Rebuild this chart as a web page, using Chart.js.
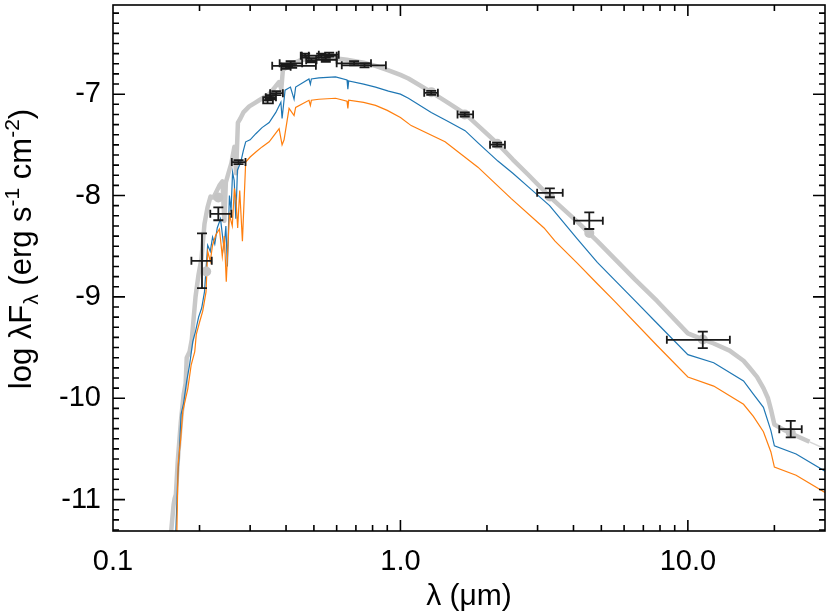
<!DOCTYPE html>
<html>
<head>
<meta charset="utf-8">
<script src="https://cdn.jsdelivr.net/npm/chart.js@4.4.1/dist/chart.umd.min.js"></script>
<style>
  html, body { margin: 0; padding: 0; background: #ffffff; }
  #sedChart { display: block; }
</style>
</head>
<body>
<canvas id="sedChart" width="830" height="616"></canvas>
<script>
"use strict";

// ---------------------------------------------
// Axis ticks (log wavelength, log flux)
// ---------------------------------------------
const xTickValues = [0.1, 1, 10];
const xTickLabels = ["0.1", "1.0", "10.0"];
const yTickValues = [-11, -10, -9, -8, -7];
const yTickLabels = ["-11", "-10", "-9", "-8", "-7"];

// ---------------------------------------------
// Best-fit model (thick grey)
// ---------------------------------------------
const greyWave = [
    0.1575, 0.1595, 0.1625, 0.1638, 0.1655, 0.168, 0.172, 0.176, 0.179, 0.1805,
    0.1847, 0.188, 0.1937, 0.1984, 0.2032, 0.2081, 0.2132, 0.2184, 0.2237, 0.2291,
    0.2346, 0.2403, 0.244, 0.247, 0.2521, 0.2582, 0.2644, 0.268, 0.272, 0.2774,
    0.2841, 0.291, 0.2979, 0.3099, 0.3225, 0.3357, 0.3494, 0.3636, 0.3784, 0.385,
    0.39, 0.4098, 0.4265, 0.4438, 0.4806, 0.5204, 0.5909, 0.6503, 0.7447, 0.8193,
    0.9086, 1.0, 1.066, 1.28, 1.466, 1.679, 1.862, 2.183, 2.461, 2.773,
    3.304, 4.13, 4.842, 5.546, 6.556, 7.81, 10.0, 11.27, 12.3, 13.97,
    15.62, 16.39, 17.4, 18.32, 19.0, 19.53, 20.0, 21.5, 23.8, 26.5, 30.0
];
const greyFlux = [
    -11.5, -11.3, -11.05, -10.99, -10.95, -10.62, -10.25, -9.97, -9.85, -9.6,
    -9.54, -9.42, -9.0, -8.78, -8.62, -8.28, -8.12, -8.01, -8.02, -7.96,
    -7.9, -7.86, -8.25, -7.87, -7.78, -7.68, -7.52, -7.78, -7.28, -7.24,
    -7.18, -7.15, -7.12, -7.09, -7.06, -7.03, -7.0, -6.94, -6.88, -6.95,
    -6.76, -6.72, -6.69, -6.67, -6.645, -6.635, -6.645, -6.66, -6.69, -6.72,
    -6.765, -6.81, -6.845, -6.98, -7.085, -7.195, -7.31, -7.49, -7.645, -7.79,
    -8.01, -8.26, -8.45, -8.62, -8.83, -9.04, -9.36, -9.42, -9.46, -9.53,
    -9.63, -9.70, -9.79, -9.9, -10.0, -10.13, -10.26, -10.31, -10.37, -10.43, -10.5
];

// ---------------------------------------------
// Second model (blue)
// ---------------------------------------------
const blueWave = [
    0.1645, 0.1655, 0.168, 0.17, 0.1725, 0.176, 0.1805, 0.1847, 0.1895, 0.1937,
    0.1985, 0.2035, 0.2081, 0.2135, 0.218, 0.222, 0.226, 0.2305, 0.2366, 0.2433,
    0.247, 0.25, 0.2541, 0.2575, 0.2606, 0.264, 0.2675, 0.271, 0.2783, 0.284,
    0.2895, 0.3, 0.314, 0.33, 0.3494, 0.3686, 0.3838, 0.3875, 0.3969, 0.4143,
    0.4265, 0.432, 0.4806, 0.4861, 0.49, 0.5204, 0.5946, 0.6519, 0.6563, 0.6607,
    0.7447, 0.8193, 0.9086, 1.0, 1.066, 1.28, 1.466, 1.679, 1.862, 2.183,
    2.461, 2.773, 3.304, 4.13, 4.842, 5.546, 6.556, 7.81, 10.0, 12.3,
    15.62, 16.9, 18.32, 19.45, 20.0, 23.8, 30.0
];
const blueFlux = [
    -11.5, -11.3, -10.78, -10.55, -10.16, -10.05, -9.83, -9.67, -9.44, -9.34,
    -9.2, -9.11, -8.95, -8.49, -8.55, -8.41, -8.48, -8.32, -8.23, -8.52,
    -8.3, -8.7, -8.0, -8.15, -7.77, -7.85, -8.23, -7.75, -7.67, -7.56,
    -7.47, -7.45, -7.39, -7.33, -7.28, -7.18, -7.08, -7.24, -6.96, -6.93,
    -7.05, -6.93, -6.85, -6.9, -6.85, -6.84, -6.83, -6.86, -6.95, -6.87,
    -6.9, -6.93, -6.97, -7.0, -7.04, -7.18, -7.27, -7.36, -7.48, -7.66,
    -7.78, -7.91, -8.1, -8.43, -8.66, -8.83, -9.04, -9.26, -9.57, -9.65,
    -9.83, -9.96, -10.09, -10.32, -10.47, -10.55, -10.72
];

// ---------------------------------------------
// Third model (orange)
// ---------------------------------------------
const orangeWave = [
    0.166, 0.1668, 0.1685, 0.172, 0.1749, 0.179, 0.182, 0.1871, 0.1925, 0.1949,
    0.2, 0.2052, 0.2107, 0.2135, 0.218, 0.222, 0.2278, 0.2346, 0.24, 0.244,
    0.2478, 0.2541, 0.26, 0.2644, 0.268, 0.2715, 0.276, 0.282, 0.2895, 0.3,
    0.314, 0.33, 0.3494, 0.365, 0.3784, 0.3875, 0.3937, 0.4098, 0.4265, 0.432,
    0.4806, 0.4861, 0.49, 0.5204, 0.5946, 0.6519, 0.6563, 0.6607, 0.7447, 0.8193,
    0.9, 1.0, 1.09, 1.43, 1.86, 2.43, 3.16, 3.45, 4.13, 4.842,
    5.546, 7.81, 10.0, 12.3, 15.62, 16.9, 18.32, 19.45, 20.0, 23.8, 30.0
];
const orangeFlux = [
    -11.5, -11.3, -10.65, -10.4, -10.13, -10.0, -9.91, -9.67, -9.54, -9.37,
    -9.25, -9.14, -8.95, -8.55, -8.65, -8.49, -8.39, -8.33, -8.6, -8.4,
    -8.85, -8.19, -8.3, -7.93, -8.05, -8.32, -7.95, -8.45, -7.67, -7.62,
    -7.57, -7.52, -7.47, -7.4, -7.34, -7.5, -7.45, -7.14, -7.21, -7.13,
    -7.06, -7.11, -7.06, -7.05, -7.04, -7.07, -7.14, -7.06, -7.08, -7.11,
    -7.16, -7.23, -7.31, -7.47, -7.72, -8.03, -8.32, -8.45, -8.67, -8.87,
    -9.04, -9.48, -9.79, -9.88, -10.06, -10.18, -10.33, -10.53, -10.68, -10.76, -10.93
];

// ---------------------------------------------
// Synthetic photometry of the best-fit model (grey dots)
// ---------------------------------------------
const synthWave = [0.211, 0.2325, 1.28, 1.674, 2.17, 3.31, 4.54, 11.27, 22.8];
const synthFlux = [-8.75, -8.02, -6.98, -7.2, -7.49, -8.01, -8.37, -9.42, -10.34];

// ---------------------------------------------
// Observed photometry with error bars
// ---------------------------------------------
const photWave   = [0.204, 0.2325, 0.2735, 0.345, 0.355, 0.37, 0.40, 0.415, 0.42, 0.466,
                    0.49, 0.53, 0.55, 0.565, 0.69, 0.75, 1.28, 1.674, 2.17, 3.31,
                    4.54, 11.27, 22.8];
const photFlux   = [-8.644, -8.18, -7.67, -7.06, -7.03, -6.99, -6.73, -6.695, -6.72, -6.62,
                    -6.665, -6.62, -6.66, -6.61, -6.695, -6.715, -6.987, -7.2, -7.498, -7.973,
                    -8.248, -9.424, -10.305];
const photErr    = [0.27, 0.064, 0.02, 0.03, 0.02, 0.02, 0.02, 0.02, 0.02, 0.02,
                    0.02, 0.02, 0.02, 0.02, 0.02, 0.02, 0.02, 0.02, 0.02, 0.044,
                    0.082, 0.082, 0.082];
const photWaveLo = [0.1874, 0.218, 0.259, 0.333, 0.34, 0.352, 0.385, 0.38, 0.358, 0.45,
                    0.47, 0.454, 0.51, 0.52, 0.60, 0.625, 1.21, 1.58, 2.05, 2.99,
                    4.02, 8.45, 20.8];
const photWaveHi = [0.2206, 0.258, 0.289, 0.36, 0.369, 0.39, 0.415, 0.455, 0.508, 0.48,
                    0.51, 0.60, 0.60, 0.61, 0.79, 0.89, 1.35, 1.79, 2.31, 3.67,
                    5.06, 14.0, 24.9];

// The thick grey line turns thin beyond this wavelength
const greyThinFrom = 26.5;

const fontFamily = "'Liberation Sans', Arial, Helvetica, sans-serif";

function toPoints(xs, ys) {
    return xs.map((x, i) => ({ x: x, y: ys[i] }));
}

/**
 * Draws the error bars, the boxed frame with inward ticks
 * and the rotated y-axis title with sub/superscripts.
 */
const sedDecorations = {

    id: "sedDecorations",

    afterDatasetsDraw(chart) {

        const ctx = chart.ctx;
        const xs = chart.scales.x;
        const ys = chart.scales.y;

        ctx.save();
        ctx.strokeStyle = "#1a1a1a";
        ctx.lineWidth = 1.8;

        photWave.forEach((w, i) => {

            const px = xs.getPixelForValue(w);
            const py = ys.getPixelForValue(photFlux[i]);
            const x0 = xs.getPixelForValue(photWaveLo[i]);
            const x1 = xs.getPixelForValue(photWaveHi[i]);
            const yTop = ys.getPixelForValue(photFlux[i] + photErr[i]);
            const yBot = ys.getPixelForValue(photFlux[i] - photErr[i]);

            ctx.beginPath();
            // horizontal bar + caps
            ctx.moveTo(x0, py); ctx.lineTo(x1, py);
            ctx.moveTo(x0, py - 4); ctx.lineTo(x0, py + 4);
            ctx.moveTo(x1, py - 4); ctx.lineTo(x1, py + 4);
            // vertical bar + caps
            ctx.moveTo(px, yTop); ctx.lineTo(px, yBot);
            ctx.moveTo(px - 5, yTop); ctx.lineTo(px + 5, yTop);
            ctx.moveTo(px - 5, yBot); ctx.lineTo(px + 5, yBot);
            ctx.stroke();

        });

        ctx.restore();

    },

    afterDraw(chart) {

        const ctx = chart.ctx;
        const area = chart.chartArea;
        const xs = chart.scales.x;
        const ys = chart.scales.y;

        ctx.save();
        ctx.strokeStyle = "#000000";
        ctx.lineWidth = 1.6;

        // frame
        ctx.strokeRect(area.left, area.top, area.right - area.left, area.bottom - area.top);

        ctx.beginPath();

        // x ticks (major + log minors), bottom and top, pointing inward
        for (let decade = 0.1; decade < 100; decade *= 10) {
            for (let m = 1; m <= 9; m++) {
                const v = decade * m;
                if (v <= xs.min || v >= xs.max) continue;
                const len = m === 1 ? 11 : 6;
                const px = xs.getPixelForValue(v);
                ctx.moveTo(px, area.bottom); ctx.lineTo(px, area.bottom - len);
                ctx.moveTo(px, area.top); ctx.lineTo(px, area.top + len);
            }
        }

        // y ticks (major every 1, minor every 0.1), left and right
        for (let k = -120; k <= -60; k++) {
            const v = k / 10;
            if (v <= ys.min || v >= ys.max) continue;
            const len = k % 10 === 0 ? 12 : 6;
            const py = ys.getPixelForValue(v);
            ctx.moveTo(area.left, py); ctx.lineTo(area.left + len, py);
            ctx.moveTo(area.right, py); ctx.lineTo(area.right - len, py);
        }

        ctx.stroke();

        // y-axis title: log λF_λ (erg s^-1 cm^-2)
        const big = "31px " + fontFamily;
        const small = "21px " + fontFamily;
        const pieces = [
            { t: "log λF", f: big, dy: 0 },
            { t: "λ", f: small, dy: 7 },
            { t: " (erg s", f: big, dy: 0 },
            { t: "-1", f: small, dy: -12 },
            { t: " cm", f: big, dy: 0 },
            { t: "-2", f: small, dy: -12 },
            { t: ")", f: big, dy: 0 }
        ];

        let total = 0;
        pieces.forEach(p => { ctx.font = p.f; p.w = ctx.measureText(p.t).width; total += p.w; });

        ctx.translate(31, 249);
        ctx.rotate(-Math.PI / 2);
        ctx.fillStyle = "#000000";
        ctx.textBaseline = "alphabetic";
        ctx.textAlign = "left";

        let cursor = -total / 2;
        pieces.forEach(p => {
            ctx.font = p.f;
            ctx.fillText(p.t, cursor, p.dy);
            cursor += p.w;
        });

        ctx.restore();

    }

};

const canvas = document.querySelector("#sedChart");

new Chart(canvas, {

    type: "line",

    data: {

        datasets: [

            {
                type: "scatter",
                label: "Model photometry",
                data: toPoints(synthWave, synthFlux),
                pointRadius: 5,
                pointBackgroundColor: "#c4c4c4",
                pointBorderWidth: 0,
                showLine: false,
                clip: 0
            },

            {
                label: "Model 3",
                data: toPoints(orangeWave, orangeFlux),
                borderColor: "#ff7f0e",
                borderWidth: 1.2,
                pointRadius: 0,
                tension: 0,
                clip: 0
            },

            {
                label: "Model 2",
                data: toPoints(blueWave, blueFlux),
                borderColor: "#1f77b4",
                borderWidth: 1.2,
                pointRadius: 0,
                tension: 0,
                clip: 0
            },

            {
                label: "Best fit",
                data: toPoints(greyWave, greyFlux),
                borderColor: "#c8c8c8",
                borderWidth: 4.5,
                borderJoinStyle: "round",
                pointRadius: 0,
                tension: 0,
                clip: 0,
                segment: {
                    borderWidth: seg => seg.p0.parsed.x >= greyThinFrom ? 1.5 : 4.5,
                    borderColor: seg => seg.p0.parsed.x >= greyThinFrom ? "#d6d6d6" : "#c8c8c8"
                }
            }

        ]

    },

    options: {

        responsive: false,
        animation: false,
        events: [],

        layout: {
            padding: { top: 2, right: 1, left: 0, bottom: 0 }
        },

        plugins: {
            legend: { display: false },
            tooltip: { enabled: false }
        },

        scales: {

            x: {
                type: "logarithmic",
                position: "bottom",
                min: 0.1,
                max: 30,
                grid: { display: false, drawTicks: false },
                border: { display: false },
                afterBuildTicks: scale => {
                    scale.ticks = xTickValues.map(v => ({ value: v, major: true }));
                },
                afterFit: scale => {
                    scale.height = 85;
                    scale.paddingLeft = 0;
                    scale.paddingRight = 0;
                },
                ticks: {
                    autoSkip: false,
                    maxRotation: 0,
                    padding: 14,
                    color: "#000000",
                    font: { family: fontFamily, size: 29 },
                    callback: (value, index) => xTickLabels[index]
                },
                title: {
                    display: true,
                    text: "λ (μm)",
                    color: "#000000",
                    font: { family: fontFamily, size: 30 },
                    padding: { top: 0, bottom: 1 }
                }
            },

            y: {
                type: "linear",
                min: -11.31,
                max: -6.12,
                grid: { display: false, drawTicks: false },
                border: { display: false },
                afterBuildTicks: scale => {
                    scale.ticks = yTickValues.map(v => ({ value: v }));
                },
                afterFit: scale => {
                    scale.width = 113;
                    scale.paddingTop = 0;
                    scale.paddingBottom = 0;
                },
                ticks: {
                    autoSkip: false,
                    padding: 12,
                    color: "#000000",
                    font: { family: fontFamily, size: 29 },
                    callback: (value, index) => yTickLabels[index]
                }
            }

        }

    },

    plugins: [sedDecorations]

});
</script>
</body>
</html>
